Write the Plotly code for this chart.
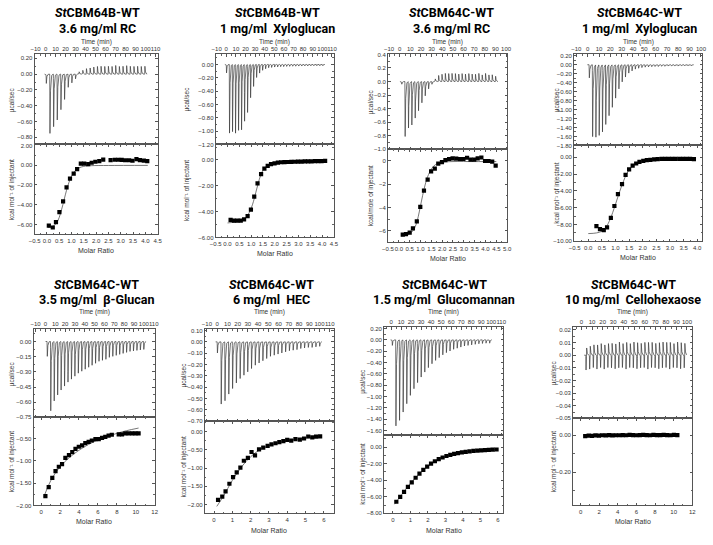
import numpy as np
import plotly.graph_objects as go

# ------------------------------------------------------------------ DATA
# Panel 1: StCBM64B-WT, 3.6 mg/ml RC
p1_start, p1_interval = 0.5, 3.65
p1_peaks = [-0.12, -0.75, -0.68, -0.58, -0.46, -0.32, -0.17, -0.11, -0.06, 0.03, 0.05, 0.07, 0.08, 0.09,
            0.10, 0.10, 0.10, 0.10, 0.10, 0.11, 0.10, 0.10, 0.11, 0.10, 0.10, 0.10, 0.10, 0.10]
p1_ratio = [0.08, 0.24, 0.37, 0.51, 0.66, 0.80, 0.94, 1.09, 1.23, 1.38, 1.52, 1.68, 1.82, 1.97, 2.13, 2.29,
            2.59, 2.76, 2.90, 3.04, 3.18, 3.34, 3.48, 3.64, 3.78, 3.94, 4.08]
p1_heat = [-6.10, -6.30, -5.75, -4.75, -3.65, -2.25, -1.35, -0.85, -0.40, 0.15, 0.15, 0.10, 0.25, 0.35, 0.42,
           0.57, 0.52, 0.55, 0.55, 0.53, 0.50, 0.50, 0.45, 0.62, 0.52, 0.47, 0.42]
p1_fit_ratio = [0.05, 0.30, 0.45, 0.55, 0.65, 0.75, 0.85, 0.95, 1.05, 1.15, 1.30, 1.50, 1.80, 2.50, 4.10]
p1_fit_heat = [-6.30, -6.10, -5.60, -4.90, -4.00, -3.00, -2.10, -1.40, -0.90, -0.55, -0.28, -0.12, -0.05, -0.03, -0.02]

# Panel 2: StCBM64B-WT, 1 mg/ml Xyloglucan
p2_start, p2_interval = 0.0, 3.13
p2_peaks = [-0.13, -1.03, -1.03, -1.03, -1.01, -0.98, -0.87, -0.72, -0.51, -0.33, -0.20, -0.13, -0.09, -0.065,
            -0.05, -0.045, -0.04, -0.037, -0.034, -0.032, -0.03, -0.028, -0.027, -0.026, -0.025, -0.024,
            -0.023, -0.022, -0.021, -0.02, -0.02, -0.02, -0.02]
p2_ratio = [0.13, 0.27, 0.42, 0.56, 0.70, 0.85, 0.99, 1.13, 1.27, 1.42, 1.56, 1.70, 1.84, 1.99, 2.13, 2.27,
            2.41, 2.56, 2.70, 2.84, 2.98, 3.13, 3.27, 3.41, 3.55, 3.70, 3.84, 3.98, 4.13]
p2_heat = [-4.64, -4.70, -4.70, -4.70, -4.60, -4.36, -3.85, -2.85, -1.82, -1.10, -0.67, -0.46, -0.33, -0.26,
           -0.21, -0.18, -0.17, -0.16, -0.15, -0.14, -0.13, -0.13, -0.12, -0.12, -0.11, -0.10, -0.10, -0.09, -0.08]
p2_fit_ratio = [0.0, 0.3, 0.5, 0.7, 0.85, 1.0, 1.1, 1.2, 1.3, 1.4, 1.5, 1.7, 1.9, 2.2, 3.0, 4.15]
p2_fit_heat = [-4.88, -4.82, -4.75, -4.60, -4.30, -3.75, -3.20, -2.50, -1.80, -1.20, -0.80, -0.42, -0.28,
               -0.20, -0.14, -0.08]

# Panel 3: StCBM64C-WT, 3.6 mg/ml RC
p3_start, p3_interval = 1.7, 3.15
p3_peaks = [-0.04, -0.81, -0.70, -0.64, -0.55, -0.43, -0.32, -0.21, -0.11, -0.04, 0.04, 0.09, 0.11, 0.12,
            0.12, 0.12, 0.12, 0.11, 0.12, 0.11, 0.12, 0.11, 0.11, 0.12, 0.10, 0.12, 0.10, 0.10, 0.08]
p3_ratio = [0.18, 0.33, 0.50, 0.65, 0.83, 0.99, 1.16, 1.33, 1.49, 1.66, 1.82, 1.99, 2.15, 2.32, 2.48, 2.65,
            2.82, 2.98, 3.15, 3.31, 3.48, 3.64, 3.81, 3.98, 4.14, 4.31, 4.47]
p3_heat = [-6.33, -6.30, -6.17, -5.80, -5.20, -3.95, -2.55, -1.60, -0.90, -0.65, -0.23, -0.10, 0.08, 0.17,
           0.22, 0.20, 0.17, 0.17, 0.28, 0.11, 0.11, 0.22, 0.30, 0.00, 0.00, -0.06, -0.40]
p3_fit_ratio = [0.10, 0.30, 0.50, 0.65, 0.80, 0.90, 1.00, 1.10, 1.20, 1.30, 1.45, 1.60, 1.80, 2.00, 2.50, 3.50, 4.50]
p3_fit_heat = [-6.45, -6.40, -6.25, -6.00, -5.45, -4.75, -3.85, -2.95, -2.15, -1.50, -0.85, -0.45, -0.20,
               -0.10, -0.05, -0.05, -0.05]

# Panel 4: StCBM64C-WT, 1 mg/ml Xyloglucan
p4_start, p4_interval = 1.2, 2.9
p4_peaks = [-0.30, -1.64, -1.65, -1.61, -1.53, -1.36, -1.16, -0.97, -0.76, -0.55, -0.39, -0.28, -0.19, -0.14,
            -0.10, -0.08, -0.065, -0.055, -0.05, -0.045, -0.04, -0.04, -0.035, -0.035, -0.03, -0.03, -0.03,
            -0.03, -0.025, -0.025, -0.025, -0.025]
p4_ratio = [0.30, 0.43, 0.57, 0.69, 0.83, 0.96, 1.09, 1.24, 1.37, 1.50, 1.63, 1.76, 1.88, 2.02, 2.15, 2.28,
            2.42, 2.55, 2.69, 2.82, 2.95, 3.08, 3.21, 3.35, 3.48, 3.61, 3.74, 3.88]
p4_heat = [-8.20, -8.55, -8.67, -8.33, -7.20, -5.80, -4.40, -3.20, -2.10, -1.45, -1.00, -0.75, -0.55, -0.43,
           -0.35, -0.31, -0.25, -0.24, -0.21, -0.20, -0.20, -0.20, -0.20, -0.20, -0.19, -0.19, -0.19, -0.24]
p4_fit_ratio = [0.0, 0.3, 0.5, 0.65, 0.8, 0.9, 1.0, 1.1, 1.2, 1.3, 1.4, 1.55, 1.7, 1.9, 2.2, 2.8, 3.88]
p4_fit_heat = [-9.08, -9.00, -8.80, -8.35, -7.40, -6.55, -5.60, -4.60, -3.65, -2.80, -2.05, -1.30, -0.85,
               -0.50, -0.32, -0.24, -0.20]

# Panel 5: StCBM64C-WT, 3.5 mg/ml beta-Glucan
p5_start, p5_interval = 1.7, 3.5
p5_peaks = [-0.15, -0.70, -0.60, -0.54, -0.49, -0.45, -0.41, -0.38, -0.35, -0.32, -0.30, -0.28, -0.26, -0.24,
            -0.22, -0.20, -0.19, -0.18, -0.16, -0.15, -0.14, -0.13, -0.12, -0.11, -0.10, -0.095, -0.09, -0.085, -0.08]
p5_ratio = [0.45, 0.80, 1.18, 1.52, 1.87, 2.21, 2.56, 2.94, 3.29, 3.63, 3.98, 4.33, 4.67, 5.02, 5.36, 5.74,
            6.09, 6.44, 6.78, 7.13, 7.47, 8.20, 8.55, 8.90, 9.24, 9.62, 9.97, 10.30]
p5_heat = [-1.79, -1.59, -1.38, -1.23, -1.13, -1.07, -0.93, -0.87, -0.80, -0.73, -0.68, -0.65, -0.60, -0.57,
           -0.54, -0.51, -0.51, -0.48, -0.46, -0.43, -0.41, -0.40, -0.40, -0.38, -0.38, -0.38, -0.38, -0.38]
p5_fit_ratio = [0.3, 1.0, 2.0, 3.0, 4.0, 5.0, 6.0, 7.0, 8.0, 9.0, 10.3]
p5_fit_heat = [-1.80, -1.45, -1.13, -0.92, -0.76, -0.63, -0.53, -0.45, -0.38, -0.32, -0.26]

# Panel 6: StCBM64C-WT, 6 mg/ml HEC
p6_start, p6_interval = 0.0, 3.7
p6_peaks = [-0.10, -0.56, -0.53, -0.47, -0.42, -0.37, -0.33, -0.30, -0.27, -0.24, -0.21, -0.19, -0.17, -0.15,
            -0.13, -0.12, -0.11, -0.10, -0.09, -0.08, -0.075, -0.07, -0.06, -0.055, -0.05, -0.05, -0.045, -0.04]
p6_ratio = [0.22, 0.45, 0.63, 0.84, 1.04, 1.24, 1.44, 1.63, 1.85, 2.05, 2.24, 2.46, 2.69, 2.93, 3.14, 3.36,
            3.57, 3.79, 4.00, 4.22, 4.45, 4.69, 4.92, 5.15, 5.37, 5.58, 5.80]
p6_heat = [-1.87, -1.78, -1.64, -1.43, -1.25, -1.12, -0.99, -0.80, -0.72, -0.56, -0.65, -0.49, -0.44, -0.39,
           -0.35, -0.32, -0.29, -0.26, -0.23, -0.25, -0.21, -0.22, -0.19, -0.135, -0.16, -0.14, -0.13]
p6_fit_ratio = [0.15, 0.5, 1.0, 1.5, 2.0, 2.5, 3.0, 3.5, 4.0, 4.5, 5.0, 5.8]
p6_fit_heat = [-2.05, -1.78, -1.34, -0.97, -0.69, -0.50, -0.39, -0.31, -0.25, -0.21, -0.18, -0.14]

# Panel 7: StCBM64C-WT, 1.5 mg/ml Glucomannan
p7_start, p7_interval = 1.0, 3.6
p7_peaks = [-0.10, -1.55, -1.45, -1.30, -1.15, -1.00, -0.88, -0.77, -0.67, -0.58, -0.50, -0.43, -0.37, -0.32,
            -0.27, -0.23, -0.20, -0.17, -0.15, -0.13, -0.11, -0.10, -0.09, -0.08, -0.07, -0.065, -0.06, -0.06]
p7_ratio = [0.20, 0.42, 0.64, 0.86, 1.08, 1.30, 1.52, 1.74, 1.96, 2.18, 2.40, 2.62, 2.84, 3.06, 3.28, 3.50,
            3.72, 3.94, 4.16, 4.38, 4.60, 4.82, 5.04, 5.26, 5.48, 5.70, 5.92]
p7_heat = [-6.60, -6.00, -5.40, -4.80, -4.25, -3.70, -3.20, -2.75, -2.35, -2.00, -1.70, -1.45, -1.25, -1.07,
           -0.93, -0.81, -0.71, -0.63, -0.56, -0.50, -0.45, -0.41, -0.38, -0.35, -0.32, -0.30, -0.28]
p7_fit_ratio = [0.1, 0.5, 1.0, 1.5, 2.0, 2.5, 3.0, 3.5, 4.0, 4.5, 5.0, 5.9]
p7_fit_heat = [-6.90, -5.75, -4.40, -3.25, -2.30, -1.65, -1.15, -0.82, -0.60, -0.47, -0.39, -0.30]

# Panel 8: StCBM64C-WT, 10 mg/ml Cellohexaose
p8_start, p8_interval = 4.0, 3.45
p8_peaks_down = [-0.012, -0.011, -0.010, -0.011, -0.010, -0.011, -0.010, -0.010, -0.011, -0.010, -0.010,
                 -0.011, -0.010, -0.010, -0.011, -0.010, -0.010, -0.011, -0.010, -0.010, -0.011, -0.010,
                 -0.010, -0.011, -0.010, -0.010, -0.011, -0.010]
p8_peaks_up = [0.009, 0.010, 0.011, 0.011, 0.012, 0.011, 0.012, 0.012, 0.012, 0.013, 0.012, 0.013, 0.012,
               0.013, 0.013, 0.012, 0.013, 0.013, 0.013, 0.012, 0.013, 0.013, 0.013, 0.013, 0.012, 0.013,
               0.013, 0.012]
p8_ratio = [0.50, 0.87, 1.23, 1.60, 1.97, 2.33, 2.70, 3.07, 3.43, 3.80, 4.17, 4.53, 4.90, 5.27, 5.63, 6.00,
            6.37, 6.73, 7.10, 7.47, 7.83, 8.20, 8.57, 8.93, 9.30, 9.67, 10.03, 10.40]
p8_heat = [-0.006, -0.003, -0.004, -0.002, -0.003, -0.001, -0.002, 0.000, -0.002, -0.001, -0.001, 0.000,
           -0.001, 0.001, 0.000, -0.001, 0.000, 0.001, 0.000, -0.001, 0.001, 0.000, 0.000, 0.001, 0.000,
           -0.001, 0.001, 0.000]
p8_fit_ratio = [0.3, 10.4]
p8_fit_heat = [-0.002, 0.000]

titles = [
    ("<i>St</i>CBM64B-WT", "3.6 mg/ml RC"),
    ("<i>St</i>CBM64B-WT", "1 mg/ml  Xyloglucan"),
    ("<i>St</i>CBM64C-WT", "3.6 mg/ml RC"),
    ("<i>St</i>CBM64C-WT", "1 mg/ml  Xyloglucan"),
    ("<i>St</i>CBM64C-WT", "3.5 mg/ml  β-Glucan"),
    ("<i>St</i>CBM64C-WT", "6 mg/ml  HEC"),
    ("<i>St</i>CBM64C-WT", "1.5 mg/ml  Glucomannan"),
    ("<i>St</i>CBM64C-WT", "10 mg/ml  Cellohexaose"),
]
top_ylabel = "µcal/sec"
bottom_ylabels = ["kcal mol⁻¹ of injectant"] * 8
bottom_ylabels[2] = "kcal/mole of injectant"


# ------------------------------------------------------------------ HELPERS
def spike(u, rise=0.25, tau=0.45):
    return np.where(u < 0, 0.0, np.where(u < rise, u / rise, np.exp(-(u - rise) / tau)))


def thermogram(start, interval, peaks, peaks_up=None):
    n = len(peaks)
    t = np.arange(start - 1.5, start + (n - 1) * interval + 2.5, 0.02)
    y = np.zeros_like(t)
    for i, h in enumerate(peaks):
        u = t - (start + i * interval)
        y += h * spike(u)
        if peaks_up is not None:
            y += peaks_up[i] * spike(u - 0.6)
    return t, y


W, H = 713, 545
FONT = "Liberation Sans, Arial, sans-serif"

# layout geometry (pixels): box x0, x1, y top, y divider, y bottom
panels = [
    dict(box=(29, 154, 52, 143, 234), title_x=93, row=0,
         tx=[-11, 112], ty=[-0.89, 0.25], tdt=0.2, tfmt=".2f",
         bx=[-0.5, 4.5], bxdt=0.5, bxfmt=".1f", by=[-7, 2.1], bydt=2, byfmt=".2f", ylx=7, mr_y=250,
         th=(p1_start, p1_interval, p1_peaks, None), pts=(p1_ratio, p1_heat), fit=(p1_fit_ratio, p1_fit_heat)),
    dict(box=(213, 333, 52, 143, 237), title_x=276, row=0,
         tx=[-11, 112], ty=[-1.2, 0.15], tdt=0.2, tfmt=".2f",
         bx=[-0.5, 4.5], bxdt=0.5, bxfmt=".1f", by=[-6, 1.2], bydt=2, byfmt=".2f", ylx=184, mr_y=253,
         th=(p2_start, p2_interval, p2_peaks, None), pts=(p2_ratio, p2_heat), fit=(p2_fit_ratio, p2_fit_heat)),
    dict(box=(388, 509, 52, 148, 242), title_x=452, row=0,
         tx=[-11, 101], ty=[-1.0, 0.4], tdt=0.2, tfmt=".1f",
         bx=[-0.5, 5.0], bxdt=0.5, bxfmt=".1f", by=[-7, 1], bydt=2, byfmt=".0f", ylx=371, mr_y=258,
         th=(p3_start, p3_interval, p3_peaks, None), pts=(p3_ratio, p3_heat), fit=(p3_fit_ratio, p3_fit_heat)),
    dict(box=(577, 707, 52, 144, 241), title_x=643, row=0,
         tx=[-12, 101], ty=[-1.8, 0.23], tdt=0.2, tfmt=".2f",
         bx=[-0.52, 4.18], bxdt=0.5, bxfmt=".1f", by=[-10, 1.4], bydt=2, byfmt=".2f", ylx=560, mr_y=257,
         th=(p4_start, p4_interval, p4_peaks, None), pts=(p4_ratio, p4_heat), fit=(p4_fit_ratio, p4_fit_heat)),
    dict(box=(28, 151, 330, 419, 508), title_x=92, row=1,
         tx=[-12, 111], ty=[-0.75, 0.12], tdt=0.15, tfmt=".2f",
         bx=[-0.8, 12], bxdt=2, bxfmt="d", by=[-2.0, -0.02], bydt=0.5, byfmt=".2f", ylx=6, mr_y=524,
         th=(p5_start, p5_interval, p5_peaks, None), pts=(p5_ratio, p5_heat), fit=(p5_fit_ratio, p5_fit_heat)),
    dict(box=(202, 333, 330, 423, 516), title_x=270, row=1,
         tx=[-12, 114], ty=[-0.70, 0.11], tdt=0.1, tfmt=".2f",
         bx=[-0.5, 6.55], bxdt=1, bxfmt="d", by=[-2.24, 0.28], bydt=0.5, byfmt=".2f", ylx=181, mr_y=533,
         th=(p6_start, p6_interval, p6_peaks, None), pts=(p6_ratio, p6_heat), fit=(p6_fit_ratio, p6_fit_heat)),
    dict(box=(384, 505, 328, 437, 516), title_x=445, row=1,
         tx=[-7, 112], ty=[-1.68, 0.22], tdt=0.2, tfmt=".2f",
         bx=[-0.5, 6.3], bxdt=1, bxfmt="d", by=[-8, 1.45], bydt=2, byfmt=".2f", ylx=363, mr_y=533,
         th=(p7_start, p7_interval, p7_peaks, None), pts=(p7_ratio, p7_heat), fit=(p7_fit_ratio, p7_fit_heat)),
    dict(box=(576, 697, 328, 420, 508), title_x=637, row=1,
         tx=[-8, 105], ty=[-0.05, 0.022], tdt=0.01, tfmt=".2f",
         bx=[-0.8, 12], bxdt=2, bxfmt="d", by=[-0.38, 0.09], bydt=0.2, byfmt=".2f", ylx=556, mr_y=524,
         th=(p8_start, p8_interval, p8_peaks_down, p8_peaks_up), pts=(p8_ratio, p8_heat),
         fit=(p8_fit_ratio, p8_fit_heat)),
]

fig = go.Figure()
layout = dict(width=W, height=H, margin=dict(l=0, r=0, t=0, b=0), paper_bgcolor="white",
              plot_bgcolor="white", showlegend=False)
annotations = []

LINE = "#3a3a3a"


def axis_style(rng, dt, fmt, dom, anchor, side):
    return dict(range=rng, domain=dom, anchor=anchor, side=side, dtick=dt, tick0=0, tickformat=fmt,
                tickangle=0, showline=True, linecolor="#555", linewidth=1, mirror="allticks", ticks="inside",
                ticklen=2.5, tickwidth=0.7, tickcolor="#555", showgrid=False, zeroline=False,
                tickfont=dict(family=FONT, size=6, color="#333"),
                minor=dict(ticks="inside", ticklen=1.5, tickwidth=0.6, tickcolor="#666", dtick=dt / 2, tick0=0))


for k, p in enumerate(panels):
    x0, x1, yt, yd, yb = p["box"]
    xdom = [x0 / W, x1 / W]
    top_dom = [1 - yd / H, 1 - yt / H]
    bot_dom = [1 - yb / H, 1 - yd / H]
    it, ib = 2 * k + 1, 2 * k + 2
    xt = "x" if it == 1 else f"x{it}"
    ytn = "y" if it == 1 else f"y{it}"
    xb, ybn = f"x{ib}", f"y{ib}"

    start, interval, peaks, peaks_up = p["th"]
    t, sig = thermogram(start, interval, peaks, peaks_up)
    fig.add_trace(go.Scatter(x=t, y=sig, mode="lines", line=dict(color=LINE, width=0.7),
                             xaxis=xt, yaxis=ytn, hoverinfo="skip"))
    fr, fh = p["fit"]
    fig.add_trace(go.Scatter(x=fr, y=fh, mode="lines", line=dict(color="#555", width=0.8, shape="spline"),
                             xaxis=xb, yaxis=ybn))
    r, h = p["pts"]
    fig.add_trace(go.Scatter(x=r, y=h, mode="markers", marker=dict(symbol="square", size=4.2, color="black"),
                             xaxis=xb, yaxis=ybn))

    layout["xaxis" if it == 1 else f"xaxis{it}"] = axis_style(p["tx"], 10, "d", xdom, ytn, "top")
    layout["yaxis" if it == 1 else f"yaxis{it}"] = axis_style(p["ty"], p["tdt"], p["tfmt"], top_dom, xt, "left")
    layout[f"xaxis{ib}"] = axis_style(p["bx"], p["bxdt"], p["bxfmt"], xdom, ybn, "bottom")
    layout[f"yaxis{ib}"] = axis_style(p["by"], p["bydt"], p["byfmt"], bot_dom, xb, "left")

    cx = (x0 + x1) / 2
    row_y = [(10, 26, 39), (285, 300, 312)][p["row"]]
    annotations.append(dict(text="<b>" + titles[k][0] + "</b>", x=p["title_x"] / W, y=1 - row_y[0] / H,
                            xref="paper", yref="paper", showarrow=False, xanchor="center", yanchor="middle",
                            font=dict(family="Roboto, Open Sans, sans-serif", size=12.5, color="black")))
    annotations.append(dict(text="<b>" + titles[k][1] + "</b>", x=p["title_x"] / W, y=1 - row_y[1] / H,
                            xref="paper", yref="paper", showarrow=False, xanchor="center", yanchor="middle",
                            font=dict(family="Roboto, Open Sans, sans-serif", size=12.5, color="black")))
    annotations.append(dict(text="Time (min)", x=cx / W, y=1 - row_y[2] / H, xref="paper", yref="paper",
                            showarrow=False, xanchor="center", yanchor="middle",
                            font=dict(family=FONT, size=6.5, color="#333")))
    annotations.append(dict(text="Molar Ratio", x=cx / W, y=1 - p["mr_y"] / H, xref="paper", yref="paper",
                            showarrow=False, xanchor="center", yanchor="middle",
                            font=dict(family=FONT, size=7, color="#333")))
    annotations.append(dict(text=top_ylabel, x=p["ylx"] / W, y=1 - (yt + yd) / 2 / H, xref="paper",
                            yref="paper", showarrow=False, textangle=-90, xanchor="center", yanchor="middle",
                            font=dict(family=FONT, size=6.5, color="#333")))
    annotations.append(dict(text=bottom_ylabels[k], x=p["ylx"] / W, y=1 - (yd + yb) / 2 / H, xref="paper",
                            yref="paper", showarrow=False, textangle=-90, xanchor="center", yanchor="middle",
                            font=dict(family=FONT, size=6.5, color="#333")))

layout["annotations"] = annotations
fig.update_layout(**layout)
fig.write_html("out.html", config={"displayModeBar": False},
               post_script="document.body.style.margin='0px';document.body.style.padding='0px';")
